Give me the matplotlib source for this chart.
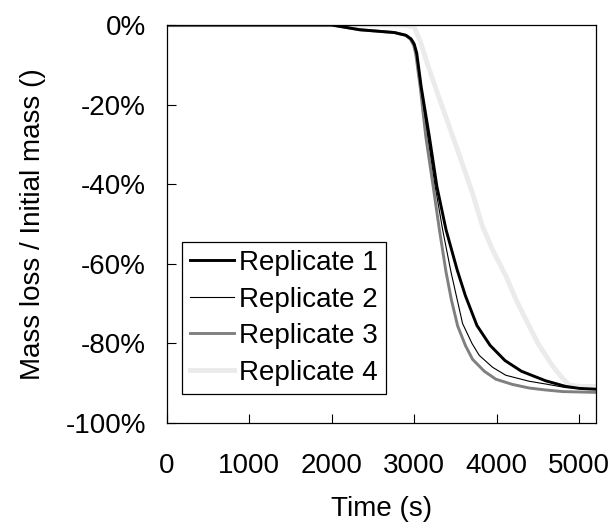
import numpy as np
import matplotlib
matplotlib.use("Agg")
import matplotlib.pyplot as plt
import matplotlib.ticker as ticker

plt.rcParams['font.family'] = ['Liberation Sans', 'DejaVu Sans']
plt.rcParams['axes.unicode_minus'] = False

# values (time in s, mass loss in %)
t1 = [0, 2000, 2340, 2760, 2900, 2962, 3000, 3030, 3085, 3183, 3275, 3385, 3520, 3620,
      3760, 3920, 4100, 4300, 4594, 4836, 5000, 5200]
m1 = [0, 0, -1.2, -1.9, -2.6, -3.5, -4.8, -7, -15.6, -28, -40.6, -51.4, -61.5, -68,
      -75.5, -80.5, -84.3, -87, -89.4, -90.8, -91.3, -91.5]

t2 = [0, 2000, 2340, 2760, 2900, 2962, 3000, 3025, 3080, 3165, 3255, 3344, 3445, 3586,
      3700, 3788, 3950, 4110, 4392, 4594, 4836, 5200]
m2 = [0, 0, -1.2, -1.9, -2.6, -3.5, -5, -7.2, -15.6, -28, -40.6, -51.4, -62, -75,
      -80, -83, -86, -88, -89.5, -90.2, -91.1, -91.5]

t3 = [0, 2000, 2340, 2760, 2900, 2955, 2995, 3020, 3075, 3140, 3230, 3305, 3385, 3450,
      3526, 3620, 3707, 3850, 3990, 4190, 4392, 4594, 4800, 5200]
m3 = [0, 0, -1.2, -1.9, -2.6, -3.6, -5.2, -7.5, -16, -28, -40.6, -51.4, -62, -69,
      -75.6, -80.5, -84, -87, -89, -90.3, -91.2, -91.7, -92.1, -92.3]

t4 = [0, 2800, 2900, 3000, 3080, 3163, 3305, 3365, 3567, 3707, 3828, 3950, 4110, 4231,
      4392, 4500, 4674, 4800, 4876, 5000, 5200]
m4 = [0, 0, -0.1, -0.5, -4.5, -10, -18.5, -22, -33.9, -42.3, -50.6, -56.5, -63, -68.9,
      -75.6, -80, -85.6, -88.8, -90.4, -90.8, -90.8]

labels = ['Replicate 1', 'Replicate 2', 'Replicate 3', 'Replicate 4']

fig = plt.figure(figsize=(6.15, 5.27), dpi=100)
ax = fig.add_axes([0.271, 0.1973, 0.6977, 0.7553])

l4, = ax.plot(t4, m4, color='#ebebeb', lw=3.5, zorder=1, label=labels[3])
l3, = ax.plot(t3, m3, color='#808080', lw=2.1, zorder=2, label=labels[2])
l1, = ax.plot(t1, m1, color='black', lw=2.1, zorder=3, label=labels[0])
l2, = ax.plot(t2, m2, color='black', lw=0.8, zorder=4, label=labels[1])

ax.set_xlim(0, 5200)
ax.set_ylim(-100, 0)
ax.xaxis.set_major_locator(ticker.MultipleLocator(1000))
ax.yaxis.set_major_locator(ticker.MultipleLocator(20))
ax.yaxis.set_major_formatter(ticker.PercentFormatter(xmax=100, decimals=0))
ax.tick_params(direction='in', length=6.5, width=0.8, labelsize=20, pad=15,
               top=False, right=False)
ax.tick_params(axis='x', pad=21.5)
for s in ax.spines.values():
    s.set_linewidth(0.9)

ax.set_xlabel("Time (s)", fontsize=20, labelpad=12)
ax.set_ylabel("Mass loss / Initial mass ()", fontsize=20, labelpad=14)

leg = ax.legend([l1, l2, l3, l4], labels, loc='lower left', bbox_to_anchor=(0.036, 0.073),
                borderaxespad=0, fontsize=20, handlelength=1.55, handletextpad=0.2,
                labelspacing=0.38, borderpad=0.3, fancybox=False, framealpha=1)
leg.get_frame().set_edgecolor('black')
leg.get_frame().set_linewidth(0.9)

fig.savefig('out.png', dpi=100)
